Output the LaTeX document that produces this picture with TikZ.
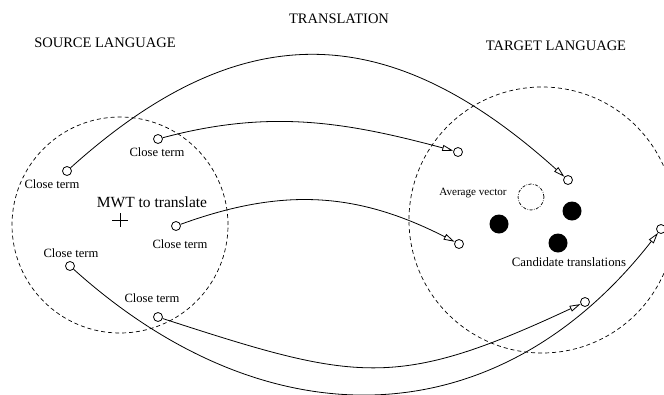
\documentclass[tikz,border=0pt]{standalone}
\usepackage{fontspec}
\setmainfont{Liberation Serif}
\usetikzlibrary{arrows.meta,positioning}
\tikzset{
  >=stealth,
  line cap=round,
  line join=round,
  region/.style={draw, circle, inner sep=0pt, line width=0.7pt, dash pattern=on 4pt off 3pt},
  termdot/.style={draw, circle, inner sep=0pt, minimum size=9pt, line width=0.8pt, fill=white},
  candot/.style={circle, fill, inner sep=0pt, minimum size=19pt},
  avgcirc/.style={draw, circle, inner sep=0pt, minimum size=26pt, line width=0.7pt, dash pattern=on 3pt off 1.5pt on 0.6pt off 1.5pt},
  arrow/.style={-{Triangle[open, length=11pt, width=6pt]}, line width=0.8pt},
  heading/.style={inner sep=0pt, font=\fontsize{14.5}{16}\selectfont},
  termlabel/.style={inner sep=0pt, font=\fontsize{12.6}{14}\selectfont},
  avglabel/.style={inner sep=0pt, font=\fontsize{11.1}{13}\selectfont}
}
\begin{document}
\begin{tikzpicture}[x=1pt, y=-1pt]
    \useasboundingbox (0,0) rectangle (664,394);
    \clip (0,0) rectangle (664,394);

    % titres
    \node[heading] (trans) at (339,19) {TRANSLATION};
    \node[heading] (srclang) at (105,43) {SOURCE LANGUAGE};
    \node[heading] (tgtlang) at (556,46) {TARGET LANGUAGE};

    % voisinages
    \node[region, minimum size=216pt] (src) at (120,225) {};
    \node[region, minimum size=266pt] (tgt) at (542,220) {};

    % terme a traduire
    \draw[line width=0.8pt] (112,220) -- (128,220);
    \draw[line width=0.8pt] (120,213) -- (120,227);
    \node[inner sep=0pt, font=\fontsize{15.5}{17}\selectfont] (mwt) at (152,202) {MWT to translate};

    % termes proches (source)
    \node[termdot] (sA) at (67,171) {};
    \node[termdot] (sB) at (158,139) {};
    \node[termdot] (sC) at (176,226) {};
    \node[termdot] (sD) at (70,266) {};
    \node[termdot] (sE) at (158,317) {};
    \node[termlabel] (lA) at (52,184) {Close term};
    \node[termlabel] (lB) at (157,152) {Close term};
    \node[termlabel] (lC) at (180,244) {Close term};
    \node[termlabel] (lD) at (71,253) {Close term};
    \node[termlabel] (lE) at (152,298) {Close term};

    % traductions (cible)
    \node[termdot] (tA) at (458,152) {};
    \node[termdot] (tB) at (568,180) {};
    \node[termdot] (tC) at (459,244) {};
    \node[termdot] (tD) at (585,302) {};
    \node[termdot] (tE) at (661,229) {};

    % vecteur moyen et candidats
    \node[avgcirc] (avg) at (531,197) {};
    \node[avglabel] (lavg) at (473,193) {Average vector};
    \node[candot] (c1) at (499,224) {};
    \node[candot] (c2) at (572,211) {};
    \node[candot] (c3) at (558,243) {};
    \node[inner sep=0pt, font=\fontsize{12.8}{14}\selectfont] (lcand) at (569,262) {Candidate translations};

    % fleches
    \draw[arrow] (sA) .. controls +(-42:238) and +(-138:238) .. (tB);
    \draw[arrow] (sB) .. controls +(-15:116) and +(-165:116) .. (tA);
    \draw[arrow] (sC) .. controls +(-20:114) and +(-153:114) .. (tC);
    \draw[arrow] (sE) .. controls +(18:209) and +(155:209) .. (tD);
    \draw[arrow] (sD) .. controls +(42:266) and +(128:266) .. (tE);
\end{tikzpicture}
\end{document}
